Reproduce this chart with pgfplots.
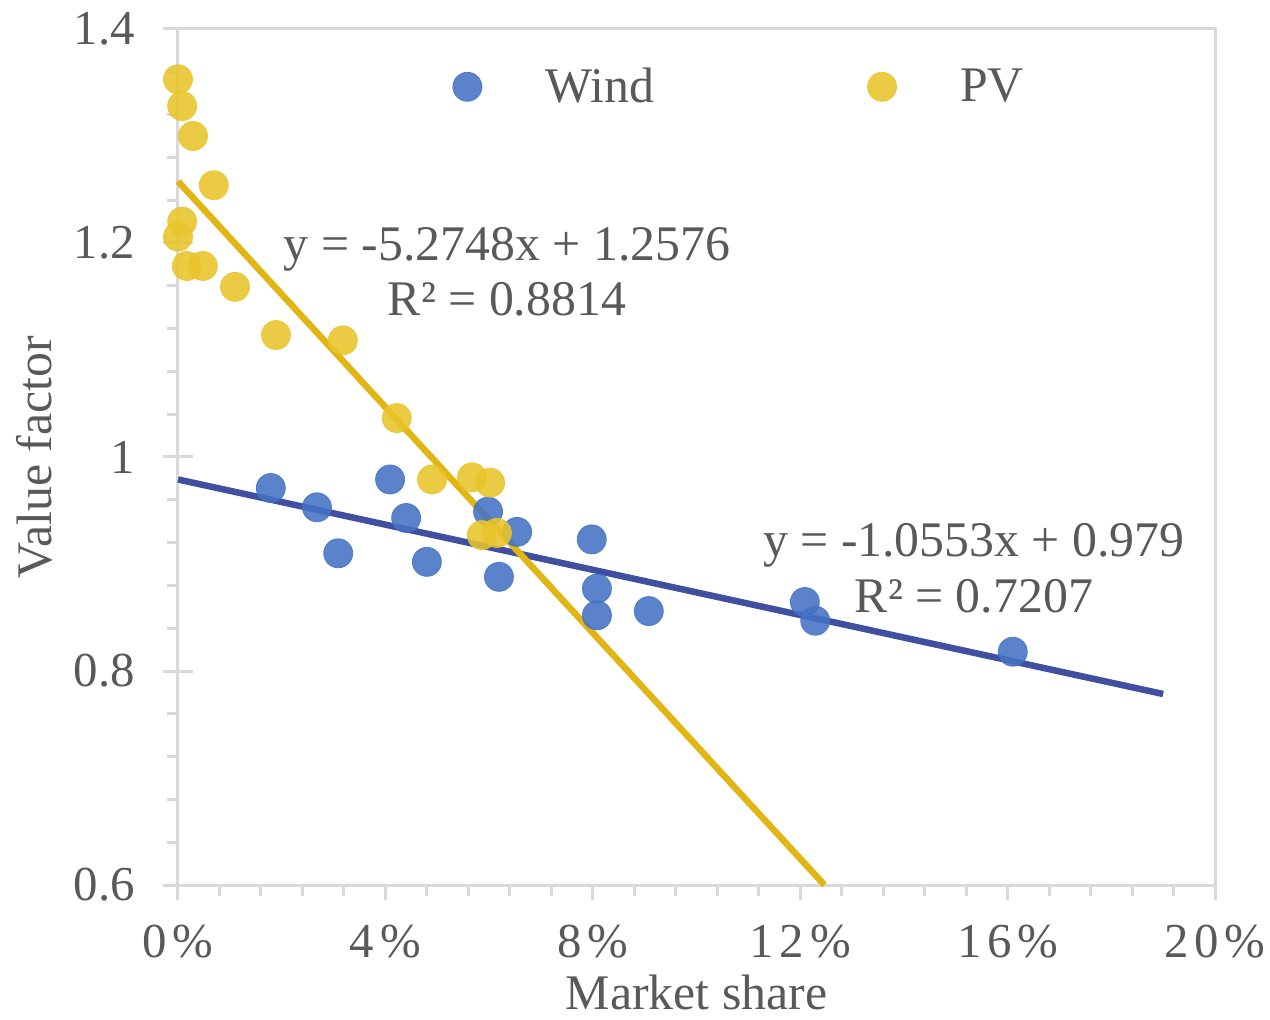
\documentclass[border=0pt]{standalone}
\usepackage{fontspec}
\setmainfont{Liberation Serif}
\newfontfamily\tickfont[LetterSpace=12]{Liberation Serif}
\usepackage{pgfplots}
\pgfplotsset{compat=1.18}
\definecolor{windc}{RGB}{68,114,196}
\definecolor{pvc}{RGB}{233,196,42}
\definecolor{windl}{RGB}{64,79,160}
\definecolor{pvl}{RGB}{224,181,20}
\definecolor{txt}{RGB}{89,89,89}
\definecolor{axc}{RGB}{217,217,217}
\begin{document}
\begin{tikzpicture}
\begin{axis}[
  name=ax, at={(0,0)}, anchor=south west,
  scale only axis, width=518.5bp, height=428bp,
  xmin=0, xmax=0.2, ymin=0.6, ymax=1.4,
  clip=false,
  axis line style={axc, line width=1.5bp},
  tick style={axc, line width=1.5bp},
  tick align=outside, tick pos=left,
  major tick length=7.5bp, minor tick length=5.5bp,
  xtick={0,0.04,0.08,0.12,0.16,0.2},
  xticklabels={0\%,4\%,8\%,12\%,16\%,20\%},
  ytick={0.6,0.8,1,1.2,1.4},
  yticklabels={0.6,0.8,1,1.2,1.4},
  minor x tick num=4, minor y tick num=4,
  extra y ticks={0.8,1,1.2}, extra y tick labels={},
  extra y tick style={tick align=inside},
  /pgf/number format/assume math mode=true,
  tick label style={font=\fontsize{24.5}{28}\selectfont, text=txt},
  xticklabel style={font=\tickfont\fontsize{24.5}{28}\selectfont, yshift=-9bp, xshift=0bp},
  yticklabel style={xshift=-10.5bp},
  xlabel={Market share}, ylabel={Value factor},
  label style={font=\fontsize{25}{28}\selectfont, text=txt},
  xlabel style={at={(axis description cs:0.5,-0.1455)}, anchor=base},
  ylabel style={at={(axis description cs:-0.1215,0.5)}, anchor=base},
  legend columns=2,
  legend cell align=left,
  legend style={draw=none, fill=none, at={(axis cs:0.0515,1.346)}, anchor=west,
    font=\fontsize{25}{28}\selectfont, text=txt,
    /tikz/every even column/.append style={column sep=104bp}},
  legend image code/.code={\path[draw=none,fill=none] (-8bp,0bp) (37bp,0bp); \draw[#1] plot coordinates {(0bp,0bp)};},
]
\addplot[only marks, mark=*, mark size=7.25bp, mark options={draw=windc, fill=windc, opacity=0.88}]
coordinates {
(0.0179,0.971) (0.0268,0.953) (0.0309,0.910) (0.0409,0.979) (0.0440,0.943)
(0.0480,0.902) (0.0598,0.949) (0.0654,0.930) (0.0619,0.888) (0.0798,0.923)
(0.0808,0.877) (0.0808,0.852) (0.0908,0.856) (0.1209,0.8645) (0.1229,0.847)
(0.1610,0.818)
};
\addlegendentry{Wind}
\addplot[only marks, mark=*, mark size=7.25bp, mark options={draw=pvc, fill=pvc, opacity=0.88}]
coordinates {
(0.0000,1.353) (0.0008,1.328) (0.0029,1.300) (0.0069,1.254) (0.0008,1.220)
(0.0000,1.206) (0.0017,1.1785) (0.0048,1.1785) (0.0110,1.159) (0.0189,1.114)
(0.0318,1.109) (0.0422,1.0364) (0.0490,0.979) (0.0567,0.981) (0.0602,0.976)
(0.0586,0.927) (0.0615,0.929)
};
\addlegendentry{PV}
\addplot[windl, line width=3.25bp, forget plot] coordinates {(0,0.979) (0.19,0.7785)};
\addplot[pvl, line width=3.25bp, forget plot] coordinates {(0,1.2576) (0.12467,0.6)};
\node[align=center, font=\fontsize{25}{28}\selectfont, text=txt] at (axis cs:0.06345,1.173) {y = -5.2748x + 1.2576\\R² = 0.8814};
\node[align=center, font=\fontsize{25}{28}\selectfont, text=txt] at (axis cs:0.1535,0.896) {y = -1.0553x + 0.979\\R² = 0.7207};
\end{axis}
\pgfresetboundingbox
\path[use as bounding box] ([xshift=-89bp,yshift=-67.5bp]ax.south west) rectangle ([xshift=27.5bp,yshift=14.5bp]ax.north east);
\end{tikzpicture}
\end{document}
